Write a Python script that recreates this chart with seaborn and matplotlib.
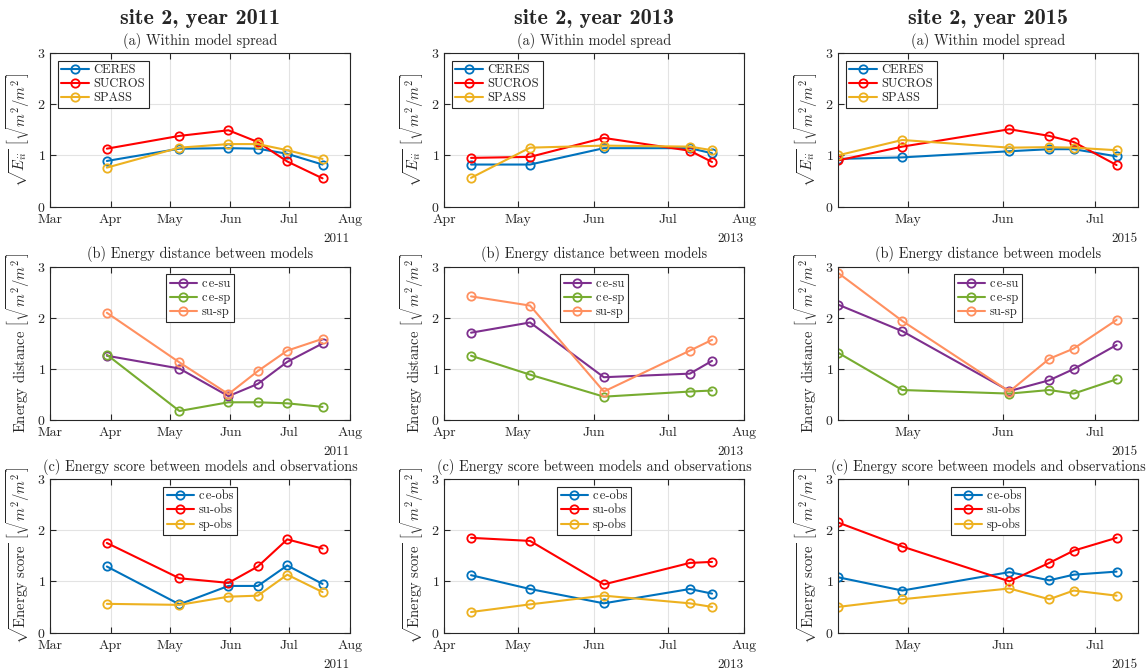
import matplotlib
matplotlib.use("Agg")
import matplotlib.pyplot as plt
import matplotlib.dates as mdates
import seaborn as sns
import pandas as pd

# ---------------- data ----------------
years = ["2011", "2013", "2015"]

dates_2011 = ["2011-03-30", "2011-05-06", "2011-05-31", "2011-06-15", "2011-06-30", "2011-07-18"]
dates_2013 = ["2013-04-12", "2013-05-06", "2013-06-05", "2013-07-10", "2013-07-19"]
dates_2015 = ["2015-04-08", "2015-04-29", "2015-06-03", "2015-06-16", "2015-06-24", "2015-07-08"]

xlim_2011 = ["2011-03-01", "2011-08-01"]
xlim_2013 = ["2013-04-01", "2013-08-01"]
xlim_2015 = ["2015-04-08", "2015-07-15"]

# (a) within model spread
ceres_2011 = [0.89, 1.13, 1.14, 1.13, 1.03, 0.82]
sucros_2011 = [1.13, 1.38, 1.49, 1.26, 0.88, 0.55]
spass_2011 = [0.76, 1.15, 1.22, 1.22, 1.10, 0.93]
ceres_2013 = [0.82, 0.82, 1.14, 1.14, 1.04]
sucros_2013 = [0.95, 0.97, 1.34, 1.09, 0.87]
spass_2013 = [0.56, 1.15, 1.19, 1.17, 1.10]
ceres_2015 = [0.93, 0.96, 1.08, 1.12, 1.12, 0.98]
sucros_2015 = [0.90, 1.17, 1.51, 1.38, 1.26, 0.81]
spass_2015 = [1.00, 1.30, 1.15, 1.16, 1.15, 1.10]

# (b) energy distance between models
cesu_2011 = [1.26, 1.01, 0.47, 0.71, 1.14, 1.50]
cesp_2011 = [1.28, 0.18, 0.35, 0.35, 0.33, 0.26]
susp_2011 = [2.10, 1.13, 0.51, 0.96, 1.36, 1.59]
cesu_2013 = [1.71, 1.91, 0.84, 0.91, 1.16]
cesp_2013 = [1.26, 0.89, 0.46, 0.56, 0.58]
susp_2013 = [2.42, 2.24, 0.56, 1.36, 1.57]
cesu_2015 = [2.26, 1.74, 0.57, 0.78, 1.00, 1.47]
cesp_2015 = [1.32, 0.59, 0.52, 0.59, 0.52, 0.80]
susp_2015 = [2.88, 1.94, 0.56, 1.20, 1.40, 1.96]

# (c) energy score between models and observations
ceobs_2011 = [1.29, 0.55, 0.91, 0.91, 1.31, 0.95]
suobs_2011 = [1.75, 1.06, 0.97, 1.29, 1.82, 1.64]
spobs_2011 = [0.56, 0.54, 0.70, 0.72, 1.13, 0.79]
ceobs_2013 = [1.12, 0.85, 0.57, 0.85, 0.76]
suobs_2013 = [1.85, 1.79, 0.94, 1.36, 1.38]
spobs_2013 = [0.40, 0.55, 0.72, 0.57, 0.50]
ceobs_2015 = [1.08, 0.82, 1.18, 1.02, 1.13, 1.19]
suobs_2015 = [2.15, 1.68, 1.00, 1.36, 1.60, 1.85]
spobs_2015 = [0.50, 0.65, 0.86, 0.65, 0.82, 0.72]

labels_a = ["CERES", "SUCROS", "SPASS"]
labels_b = ["ce-su", "ce-sp", "su-sp"]
labels_c = ["ce-obs", "su-obs", "sp-obs"]
colors_a = ["#0072BD", "#FF0000", "#EDB120"]
colors_b = ["#7E2F8E", "#77AC30", "#FF9060"]
colors_c = ["#0072BD", "#FF0000", "#EDB120"]

titles = ["(a) Within model spread",
          "(b) Energy distance between models",
          "(c) Energy score between models and observations"]
ylabels = [r"$\sqrt{E_{ii}}\ \left[\sqrt{m^2/m^2}\right]$",
           r"Energy distance $\left[\sqrt{m^2/m^2}\right]$",
           r"$\sqrt{\mathrm{Energy\ score}}\ \left[\sqrt{m^2/m^2}\right]$"]

col_dates = [dates_2011, dates_2013, dates_2015]
col_xlim = [xlim_2011, xlim_2013, xlim_2015]
panel_data = [
    [[ceres_2011, sucros_2011, spass_2011], [cesu_2011, cesp_2011, susp_2011], [ceobs_2011, suobs_2011, spobs_2011]],
    [[ceres_2013, sucros_2013, spass_2013], [cesu_2013, cesp_2013, susp_2013], [ceobs_2013, suobs_2013, spobs_2013]],
    [[ceres_2015, sucros_2015, spass_2015], [cesu_2015, cesp_2015, susp_2015], [ceobs_2015, suobs_2015, spobs_2015]],
]
row_labels = [labels_a, labels_b, labels_c]
row_colors = [colors_a, colors_b, colors_c]

# ---------------- style ----------------
sns.set_style("ticks")
plt.rcParams["font.family"] = ["cmr10", "DejaVu Serif"]
plt.rcParams["mathtext.fontset"] = "cm"
plt.rcParams["axes.unicode_minus"] = False
plt.rcParams["axes.formatter.use_mathtext"] = True


def legend_text(s):
    # break the tight c/e kerning pair of cmr10 with a hair space
    return s.replace("ce", "c\u200ae")


W, H = 1148, 670
fig = plt.figure(figsize=(W / 100, H / 100), dpi=100)

col_left = [50, 444, 838]
ax_w = 300
row_top = [53, 266.7, 479]
ax_h = 153.5

for c in range(3):
    dts = pd.to_datetime(col_dates[c])
    for r in range(3):
        ax = fig.add_axes([col_left[c] / W, 1 - (row_top[r] + ax_h) / H, ax_w / W, ax_h / H])
        for vals, lab, colr in zip(panel_data[c][r], row_labels[r], row_colors[r]):
            df = pd.DataFrame({"date": dts, "value": vals})
            sns.lineplot(data=df, x="date", y="value", ax=ax, color=colr, lw=1.5,
                         marker="o", ms=6, mfc="none", mec=colr, mew=1.3,
                         label=legend_text(lab))
        ax.set_xlim(pd.to_datetime(col_xlim[c][0]), pd.to_datetime(col_xlim[c][1]))
        ax.set_ylim(0, 3)
        ax.set_yticks([0, 1, 2, 3])
        ax.xaxis.set_major_locator(mdates.MonthLocator())
        ax.xaxis.set_major_formatter(mdates.DateFormatter("%b"))
        ax.grid(True, color="#e3e3e3", lw=0.8)
        ax.tick_params(direction="in", top=True, right=True, length=4, width=0.8,
                       labelsize=10, colors="#262626", pad=3)
        ax.tick_params(axis="x", pad=5)
        for s in ax.spines.values():
            s.set_color("#262626")
            s.set_linewidth(0.8)
        ax.set_xlabel("")
        ax.set_ylabel(ylabels[r], fontsize=10.5, labelpad=4)
        ax.set_title(titles[r], fontsize=10.3, pad=6)
        ax.text(1.0, -0.21, years[c], transform=ax.transAxes, ha="right", va="center",
                fontsize=9.5, color="#262626")
        loc = "upper left" if r == 0 else "upper center"
        leg = ax.legend(loc=loc, fontsize=9, frameon=True, fancybox=False,
                        edgecolor="#262626", framealpha=1, handlelength=2.2,
                        labelspacing=0.15, borderpad=0.3, handletextpad=0.4,
                        borderaxespad=0.6)
        leg.get_frame().set_linewidth(0.8)
    fig.text((col_left[c] + ax_w / 2) / W, 1 - 18 / H, "site 2, year " + years[c],
             ha="center", va="center", fontsize=16, family=["cmb10", "DejaVu Serif"])

fig.savefig("out.png", dpi=100)
